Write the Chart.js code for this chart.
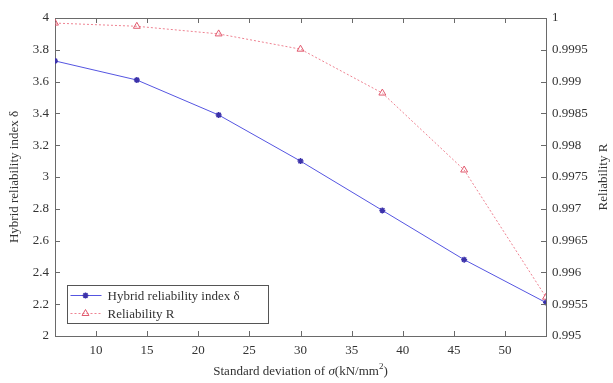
<!DOCTYPE html>
<html>
<head>
<meta charset="utf-8">
<script src="https://cdn.jsdelivr.net/npm/chart.js@4/dist/chart.umd.min.js"></script>
<style>
  html, body { margin: 0; padding: 0; background: #fff; }
  #wrap { width: 613px; height: 383px; }
</style>
</head>
<body>
<div id="wrap"><canvas id="relChart" width="613" height="383"></canvas></div>
<script>
// data
const sigma = [6, 14, 22, 30, 38, 46, 54];
const hybridIndex = [3.73, 3.61, 3.39, 3.10, 2.79, 2.48, 2.21];
const reliability = [0.99992, 0.99987, 0.99975, 0.99951, 0.99882, 0.99761, 0.99561];

const xTicks = [10, 15, 20, 25, 30, 35, 40, 45, 50];
const leftTicks = [2, 2.2, 2.4, 2.6, 2.8, 3, 3.2, 3.4, 3.6, 3.8, 4];
const rightTicks = [0.995, 0.9955, 0.996, 0.9965, 0.997, 0.9975, 0.998, 0.9985, 0.999, 0.9995, 1];

const serif = "'Liberation Serif', 'DejaVu Serif', serif";
const axisColor = "#6a6a6a";
const textColor = "#333";

const blue = "rgb(85, 85, 225)";
const red = "rgb(238, 130, 145)";

// MATLAB-like inward ticks, top frame, axis titles and boxed legend
const framePlugin = {
  id: "frame",
  afterDraw(chart) {
    const { ctx, chartArea: a, scales } = chart;
    ctx.save();
    ctx.strokeStyle = axisColor;
    ctx.lineWidth = 1;
    ctx.beginPath();
    ctx.moveTo(a.left, a.top + 0.5);
    ctx.lineTo(a.right, a.top + 0.5);
    xTicks.forEach(v => {
      const px = Math.round(scales.x.getPixelForValue(v)) + 0.5;
      ctx.moveTo(px, a.bottom);
      ctx.lineTo(px, a.bottom - 5);
      ctx.moveTo(px, a.top);
      ctx.lineTo(px, a.top + 5);
    });
    leftTicks.forEach(v => {
      const py = Math.round(scales.y.getPixelForValue(v)) + 0.5;
      ctx.moveTo(a.left, py);
      ctx.lineTo(a.left + 5, py);
    });
    rightTicks.forEach(v => {
      const py = Math.round(scales.y1.getPixelForValue(v)) + 0.5;
      ctx.moveTo(a.right, py);
      ctx.lineTo(a.right - 5, py);
    });
    ctx.stroke();

    // x title with italic sigma and superscript
    const parts = [
      ["Standard deviation of ", "13px " + serif, 0],
      ["\u03c3", "italic 13px " + serif, 0],
      ["(kN/mm", "13px " + serif, 0],
      ["2", "9px " + serif, -5],
      [")", "13px " + serif, 0]
    ];
    let total = 0;
    parts.forEach(p => { ctx.font = p[1]; total += ctx.measureText(p[0]).width; });
    let tx = (a.left + a.right) / 2 - total / 2;
    ctx.fillStyle = textColor;
    ctx.textBaseline = "middle";
    ctx.textAlign = "left";
    parts.forEach(p => {
      ctx.font = p[1];
      ctx.fillText(p[0], tx, 372 + p[2]);
      tx += ctx.measureText(p[0]).width;
    });

    // right title, reading bottom to top
    ctx.save();
    ctx.translate(604, (a.top + a.bottom) / 2);
    ctx.rotate(-Math.PI / 2);
    ctx.font = "13px " + serif;
    ctx.textAlign = "center";
    ctx.fillText("Reliability R", 0, 0);
    ctx.restore();

    // legend box
    const bx = 67.5, by = 285.5, bw = 201, bh = 38;
    ctx.fillStyle = "#fff";
    ctx.fillRect(bx, by, bw, bh);
    ctx.strokeStyle = "#555";
    ctx.strokeRect(bx, by, bw, bh);
    ctx.font = "13px " + serif;
    ctx.textBaseline = "middle";
    ctx.textAlign = "left";
    chart.data.datasets.forEach((ds, i) => {
      const ly = by + 10 + i * 18;
      ctx.strokeStyle = ds.borderColor;
      ctx.lineWidth = 1;
      ctx.setLineDash(ds.borderDash || []);
      ctx.beginPath();
      ctx.moveTo(bx + 3, ly);
      ctx.lineTo(bx + 34, ly);
      ctx.stroke();
      ctx.setLineDash([]);
      ctx.fillStyle = ds.pointBackgroundColor;
      ctx.strokeStyle = ds.pointBorderColor;
      ctx.lineWidth = ds.pointBorderWidth;
      Chart.helpers.drawPoint(ctx, {
        pointStyle: ds.pointStyle,
        radius: ds.pointRadius,
        borderWidth: ds.pointBorderWidth,
        rotation: 0
      }, bx + 18, ly);
      ctx.fillStyle = textColor;
      ctx.fillText(ds.label, bx + 40, ly + 1);
    });
    ctx.restore();
  }
};

const ctx = document.getElementById("relChart").getContext("2d");

const relChart = new Chart(ctx, {
  type: "line",
  data: {
    datasets: [
      {
        label: "Hybrid reliability index \u03b4",
        data: sigma.map((s, i) => ({ x: s, y: hybridIndex[i] })),
        yAxisID: "y",
        borderColor: blue,
        borderWidth: 1,
        pointStyle: "star",
        pointRadius: 3,
        pointBorderWidth: 1.5,
        pointBorderColor: "rgb(60, 50, 170)",
        pointBackgroundColor: "rgb(60, 50, 170)",
        tension: 0
      },
      {
        label: "Reliability R",
        data: sigma.map((s, i) => ({ x: s, y: reliability[i] })),
        yAxisID: "y1",
        borderColor: red,
        borderWidth: 1,
        borderDash: [2, 2],
        pointStyle: "triangle",
        pointRadius: 4,
        pointBorderWidth: 1,
        pointBorderColor: "rgb(225, 90, 110)",
        pointBackgroundColor: "rgba(255, 255, 255, 0)",
        tension: 0
      }
    ]
  },
  options: {
    responsive: false,
    animation: false,
    layout: { padding: { top: 18, left: 0, right: 0, bottom: 0 } },
    plugins: {
      legend: { display: false },
      tooltip: { enabled: false }
    },
    scales: {
      x: {
        type: "linear",
        min: 6,
        max: 54,
        afterBuildTicks: s => { s.ticks = xTicks.map(v => ({ value: v })); },
        afterFit: s => { s.height = 47; },
        grid: { display: false, drawTicks: false },
        border: { display: true, color: axisColor },
        ticks: { color: textColor, padding: 7, font: { family: serif, size: 13 } }
      },
      y: {
        position: "left",
        min: 2,
        max: 4,
        afterBuildTicks: s => { s.ticks = leftTicks.map(v => ({ value: v })); },
        afterFit: s => { s.width = 55; },
        grid: { display: false, drawTicks: false },
        border: { display: true, color: axisColor },
        ticks: {
          color: textColor,
          padding: 6,
          font: { family: serif, size: 13 },
          callback: v => String(Math.round(v * 10) / 10)
        },
        title: {
          display: true,
          text: "Hybrid reliability index \u03b4",
          color: textColor,
          font: { family: serif, size: 13 },
          padding: { top: 7, bottom: 0 }
        }
      },
      y1: {
        position: "right",
        min: 0.995,
        max: 1,
        afterBuildTicks: s => { s.ticks = rightTicks.map(v => ({ value: v })); },
        afterFit: s => { s.width = 67; },
        grid: { display: false, drawTicks: false },
        border: { display: true, color: axisColor },
        ticks: {
          color: textColor,
          padding: 6,
          font: { family: serif, size: 13 },
          callback: v => String(Math.round(v * 10000) / 10000)
        }
      }
    }
  },
  plugins: [framePlugin]
});
</script>
</body>
</html>
